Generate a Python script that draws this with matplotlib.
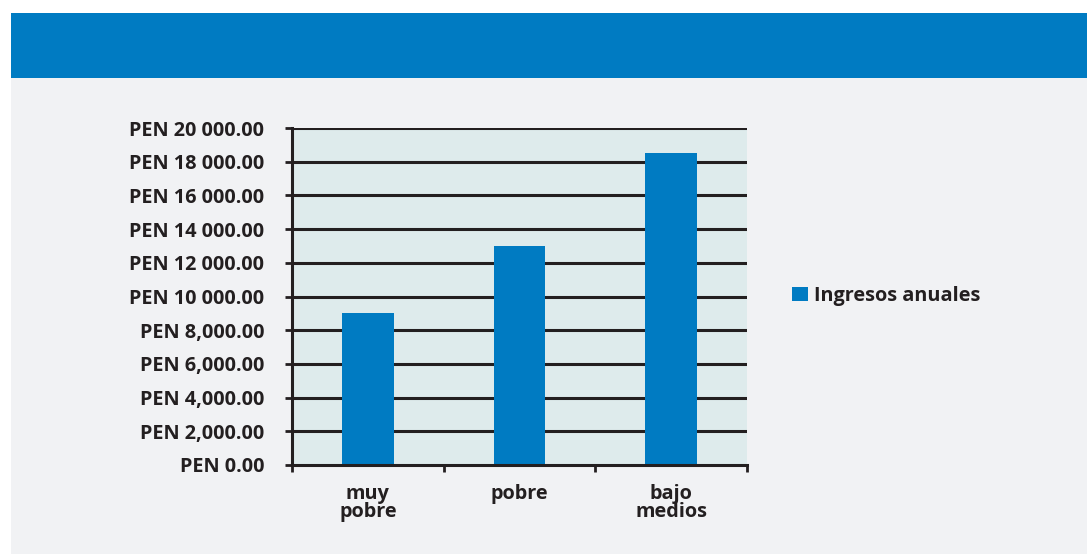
import matplotlib
matplotlib.use("Agg")
import matplotlib.pyplot as plt
from matplotlib.patches import Rectangle
import numpy as np

categories = ["muy\npobre", "pobre", "bajo\nmedios"]
ingresos = [9000, 13000, 18500]
series_name = "Ingresos anuales"
ytick_values = [0, 2000, 4000, 6000, 8000, 10000, 12000, 14000, 16000, 18000, 20000]
ytick_labels = ["PEN 0.00", "PEN 2,000.00", "PEN 4,000.00", "PEN 6,000.00",
                "PEN 8,000.00", "PEN 10 000.00", "PEN 12 000.00", "PEN 14 000.00",
                "PEN 16 000.00", "PEN 18 000.00", "PEN 20 000.00"]

W, H = 1087, 554
fig = plt.figure(figsize=(W / 100, H / 100), dpi=100)
fig.patch.set_facecolor("white")
plt.rcParams['font.family'] = ['Open Sans', 'DejaVu Sans']
FS = 14.3

# background panel and header band
fig.add_artist(Rectangle((11 / W, 0), 1 - 11 / W, (H - 78) / H, transform=fig.transFigure,
                         facecolor="#f1f2f4", edgecolor="none", zorder=0))
fig.add_artist(Rectangle((11 / W, (H - 78) / H), 1 - 11 / W, 65 / H, transform=fig.transFigure,
                         facecolor="#007bc2", edgecolor="none", zorder=0))

ax = fig.add_axes([292 / W, (H - 465) / H, (747 - 292) / W, (465 - 128) / H])
ax.set_facecolor("#deebec")
dark = "#231f20"

x = np.arange(len(categories))
ax.bar(x, ingresos, width=0.34, color="#007bc2", zorder=3, label=series_name)
ax.set_xlim(-0.5, len(categories) - 0.5)
ax.set_ylim(0, 20000)

ax.set_yticks(ytick_values)
ax.set_yticklabels(ytick_labels)
for v in ytick_values[1:]:
    ax.axhline(v, color=dark, lw=2.2, zorder=2)

ax.set_xticks(x)
ax.set_xticklabels(categories, linespacing=0.85)
ax.set_xticks(np.arange(len(categories) + 1) - 0.5, minor=True)
ax.tick_params(axis="x", which="major", length=0, pad=14)
ax.tick_params(axis="x", which="minor", length=5, width=2, color=dark, direction="out")
ax.tick_params(axis="y", length=5, width=2, color=dark, direction="out", pad=15)

for lbl in ax.get_yticklabels() + ax.get_xticklabels():
    lbl.set_fontweight("bold")
    lbl.set_fontsize(FS)
    lbl.set_color(dark)

for s in ["top", "right"]:
    ax.spines[s].set_visible(False)
for s in ["left", "bottom"]:
    ax.spines[s].set_color(dark)
    ax.spines[s].set_linewidth(2.2)
    ax.spines[s].set_zorder(4)

leg = fig.legend(loc="center left", bbox_to_anchor=(774 / W, (H - 296) / H), frameon=False,
                 handlelength=0.8, handleheight=0.7, handletextpad=0.3,
                 prop={"weight": "bold", "size": FS})
for t in leg.get_texts():
    t.set_color(dark)

fig.savefig("out.png", dpi=100, facecolor=fig.get_facecolor())
